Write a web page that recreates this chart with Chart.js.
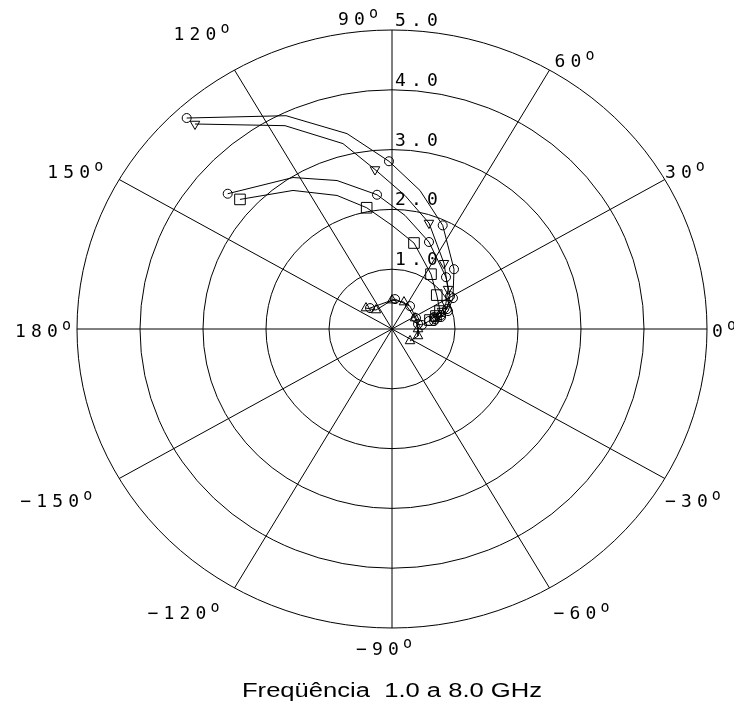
<!DOCTYPE html>
<html>
<head>
<meta charset="utf-8">
<script src="https://cdn.jsdelivr.net/npm/chart.js@4"></script>
<style>
  html, body { margin: 0; padding: 0; background: #fff; }
  #wrap { position: relative; width: 734px; height: 706px; }
</style>
</head>
<body>
<div id="wrap"><canvas id="c" width="734" height="706"></canvas></div>
<script>
// Reflection coefficients (real / imaginary parts) swept 1.0 to 8.0 GHz.
// Markers sit on whole-GHz samples; the other samples trace the path between them.
const freqA = [1.0, 1.33, 1.67, 2.0, 2.5, 3.0, 4.0, 5.0, 6.0, 7.0, 8.0];
const traceARe = [-3.259, -1.683, -0.714, -0.048, 0.444, 0.805, 0.984, 0.968, 0.889, 0.778, 0.667];
const traceAIm = [ 3.528,  3.567,  3.267,  2.805, 2.317, 1.733, 1.000, 0.517, 0.300, 0.200, 0.133];

const freqB = [1.0, 1.33, 1.67, 2.0, 2.5, 3.0, 4.0, 5.0, 6.0, 7.0, 8.0];
const traceBRe = [-3.127, -1.698, -0.778, -0.270, 0.206, 0.587, 0.825, 0.889, 0.857, 0.794, 0.714];
const traceBIm = [ 3.428,  3.400,  3.100,  2.667, 2.233, 1.772, 1.100, 0.667, 0.433, 0.300, 0.217];

const freqC = [1.0, 1.33, 1.67, 2.0, 2.5, 3.0, 4.0, 5.0, 6.0, 7.0, 8.0];
const traceCRe = [-2.608, -1.571, -0.873, -0.238, 0.206, 0.587, 0.857, 0.921, 0.873, 0.778, 0.683];
const traceCIm = [ 2.262,  2.533,  2.483,  2.245, 1.900, 1.455, 0.867, 0.550, 0.333, 0.233, 0.167];

const freqD = [1.0, 1.33, 1.67, 2.0, 2.5, 3.0, 4.0, 5.0, 6.0, 7.0, 8.0];
const traceDRe = [-2.413, -1.571, -0.873, -0.402, 0.000, 0.349, 0.619, 0.710, 0.762, 0.698, 0.603];
const traceDIm = [ 2.167,  2.317,  2.233,  2.028, 1.733, 1.438, 0.917, 0.567, 0.300, 0.217, 0.150];

// Small transmission-like loops around the origin
const freqE = [1.0, 2.0, 3.0, 4.0, 5.0, 6.0, 7.0, 8.0];
const traceERe = [-0.413, -0.254, 0.000, 0.190, 0.365, 0.413, 0.413, 0.286];
const traceEIm = [ 0.350,  0.317, 0.483, 0.450, 0.183, 0.000, -0.117, -0.200];

const freqF = [1.0, 2.0, 3.0, 4.0, 5.0, 6.0, 7.0, 8.0];
const traceFRe = [-0.349, 0.048, 0.286, 0.381, 0.413, 0.476, 0.587, 0.667];
const traceFIm = [ 0.350, 0.500, 0.383, 0.183, 0.083, 0.067, 0.133, 0.200];

const ringValues = [1, 2, 3, 4, 5];
const ringLabels = ['1.0', '2.0', '3.0', '4.0', '5.0'];
const spokeAngles = [0, 30, 60, 90, 120, 150, 180, -150, -120, -90, -60, -30];
const angleLabels = ['0', '30', '60', '90', '120', '150', '180', '\u2212150', '\u2212120', '\u221290', '\u221260', '\u221230'];
const titleText = 'Freq\u00fc\u00eancia  1.0 a 8.0 GHz';

// label placement relative to each spoke end: [dx of left edge, dy of baseline]
const angleLabelOffset = {
  '0': [5, 8], '30': [0, -2], '60': [5, -3], '90': [-54, -5], '120': [-61, -30],
  '150': [-72, -2], '180': [-62, 8], '-150': [-99, 28], '-120': [-87, 31],
  '-90': [-36, 27], '-60': [4, 31], '-30': [0, 28]
};

const LABEL_FONT = '18px "DejaVu Sans Mono"';
const DEG_FONT = '15px "DejaVu Sans Mono"';
const CELL = 16;   // plotter-style fixed character pitch
const GLYPH = 11;

function toPoints(re, im) { return re.map((v, i) => ({ x: v, y: im[i] })); }
function markerRadius(freqs, r) {
  return ctx => (Number.isInteger(freqs[ctx.dataIndex]) ? r : 0);
}
function trace(re, im, freqs, style, r, rot) {
  return {
    data: toPoints(re, im),
    showLine: true,
    borderColor: '#000',
    borderWidth: 1,
    tension: 0,
    pointStyle: style,
    pointRotation: rot || 0,
    pointRadius: markerRadius(freqs, r),
    pointHoverRadius: markerRadius(freqs, r),
    pointBorderColor: '#000',
    pointBorderWidth: 1,
    pointBackgroundColor: 'rgba(0,0,0,0)',
    clip: false
  };
}

// draws text one character per fixed-width cell, returns the right edge of the last glyph
function spacedText(ctx, txt, left, base) {
  ctx.font = LABEL_FONT;
  ctx.textAlign = 'center';
  const chars = Array.from(txt);
  chars.forEach((ch, i) => ctx.fillText(ch, left + i * CELL + GLYPH / 2, base));
  return left + (chars.length - 1) * CELL + GLYPH;
}

const polarGrid = {
  id: 'polarGrid',
  beforeDatasetsDraw(chart) {
    const { ctx, scales: { x, y } } = chart;
    const cx = x.getPixelForValue(0), cy = y.getPixelForValue(0);
    const rMax = ringValues[ringValues.length - 1];
    ctx.save();
    ctx.strokeStyle = '#000';
    ctx.lineWidth = 1;
    ringValues.forEach(r => {
      const rx = x.getPixelForValue(r) - cx;
      const ry = cy - y.getPixelForValue(r);
      ctx.beginPath();
      ctx.ellipse(cx, cy, rx, ry, 0, 0, Math.PI * 2);
      ctx.stroke();
    });
    spokeAngles.forEach(a => {
      const t = a * Math.PI / 180;
      ctx.beginPath();
      ctx.moveTo(cx, cy);
      ctx.lineTo(x.getPixelForValue(rMax * Math.cos(t)), y.getPixelForValue(rMax * Math.sin(t)));
      ctx.stroke();
    });
    ctx.restore();
  },
  afterDraw(chart) {
    const { ctx, scales: { x, y } } = chart;
    const cx = x.getPixelForValue(0);
    const rMax = ringValues[ringValues.length - 1];
    ctx.save();
    ctx.fillStyle = '#000';
    ctx.textBaseline = 'alphabetic';
    ringValues.forEach((r, i) => {
      spacedText(ctx, ringLabels[i], cx + 3, y.getPixelForValue(r) - 4);
    });
    spokeAngles.forEach((a, i) => {
      const t = a * Math.PI / 180;
      const ex = x.getPixelForValue(rMax * Math.cos(t));
      const ey = y.getPixelForValue(rMax * Math.sin(t));
      const off = angleLabelOffset[String(a)];
      const lx = ex + off[0], ly = ey + off[1];
      const right = spacedText(ctx, angleLabels[i], lx, ly);
      ctx.font = DEG_FONT;
      ctx.textAlign = 'left';
      ctx.fillText('o', right + 4, ly - 7);
    });
    // caption, set wide as in the plotter output
    ctx.font = '20px "Liberation Sans"';
    ctx.textAlign = 'center';
    const w = ctx.measureText(titleText).width;
    ctx.translate(cx, 697);
    ctx.scale(300 / w, 1);
    ctx.fillText(titleText, 0, 0);
    ctx.restore();
  }
};

new Chart(document.getElementById('c'), {
  type: 'scatter',
  data: {
    datasets: [
      trace(traceARe, traceAIm, freqA, 'circle', 4.5),
      trace(traceBRe, traceBIm, freqB, 'triangle', 5.5, 180),
      trace(traceCRe, traceCIm, freqC, 'circle', 4.5),
      trace(traceDRe, traceDIm, freqD, 'rect', 7.5),
      trace(traceERe, traceEIm, freqE, 'triangle', 5.5),
      trace(traceFRe, traceFIm, freqF, 'circle', 4.5)
    ]
  },
  options: {
    responsive: false,
    animation: false,
    devicePixelRatio: 1,
    events: [],
    layout: { padding: { left: 77, right: 27, top: 30, bottom: 78 } },
    scales: {
      x: { type: 'linear', min: -5, max: 5, display: false },
      y: { type: 'linear', min: -5, max: 5, display: false }
    },
    plugins: { legend: { display: false }, tooltip: { enabled: false } }
  },
  plugins: [polarGrid]
});
</script>
</body>
</html>
